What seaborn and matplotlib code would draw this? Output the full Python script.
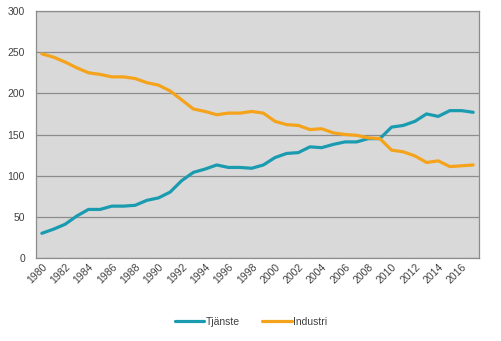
import matplotlib
matplotlib.use("Agg")
import matplotlib.pyplot as plt
import pandas as pd
import seaborn as sns

years = list(range(1980, 2018))
tjanste = [30, 35, 41, 51, 59, 59, 63, 63, 64, 70, 73, 80, 94, 104, 108, 113, 110, 110, 109, 113,
           122, 127, 128, 135, 134, 138, 141, 141, 145, 145, 159, 161, 166, 175, 172, 179, 179, 177]
industri = [248, 244, 238, 231, 225, 223, 220, 220, 218, 213, 210, 203, 192, 181, 178, 174, 176, 176, 178, 176,
            166, 162, 161, 156, 157, 152, 150, 149, 146, 145, 131, 129, 124, 116, 118, 111, 112, 113]
series_names = ["Tjänste", "Industri"]
palette = ["#1a9bb0", "#f5a31b"]
y_ticks = [0, 50, 100, 150, 200, 250, 300]
x_tick_years = list(range(1980, 2017, 2))

df = pd.DataFrame({
    "År": years * 2,
    "Antal": tjanste + industri,
    "Sektor": [series_names[0]] * len(years) + [series_names[1]] * len(years),
})

sns.set_style("white")
plt.rcParams["font.family"] = ["Liberation Sans", "DejaVu Sans"]

fig = plt.figure(figsize=(5.02, 3.41), dpi=100)
ax = fig.add_axes([0.0717, 0.2434, 0.8825, 0.7243])
ax.set_facecolor("#d9d9d9")

sns.lineplot(data=df, x="År", y="Antal", hue="Sektor", palette=palette,
             linewidth=2.3, ax=ax, legend=True)

ax.set_xlim(1979.5, 2017.5)
ax.set_ylim(0, 300)
ax.set_yticks(y_ticks)
ax.set_xticks(x_tick_years)
ax.set_xticklabels([str(y) for y in x_tick_years], rotation=45, ha="right",
                   rotation_mode="anchor", fontsize=7.5, color="#404040")
ax.tick_params(axis="y", labelsize=7.5, colors="#404040", length=0, pad=8)
ax.tick_params(axis="x", length=0, pad=3)
ax.yaxis.grid(True, color="#8c8c8c", linewidth=0.9)
ax.set_axisbelow(True)
for s in ax.spines.values():
    s.set_color("#8c8c8c")
    s.set_linewidth(0.9)
ax.set_xlabel("")
ax.set_ylabel("")

handles, labels = ax.get_legend_handles_labels()
ax.legend(handles, labels, loc="center", bbox_to_anchor=(0.5, 0.056),
          bbox_transform=fig.transFigure, ncol=2, frameon=False,
          fontsize=7.5, handlelength=2.8, handletextpad=0.1, columnspacing=2.2)
for t in ax.get_legend().get_texts():
    t.set_color("#404040")

fig.savefig("out.png", dpi=100)
